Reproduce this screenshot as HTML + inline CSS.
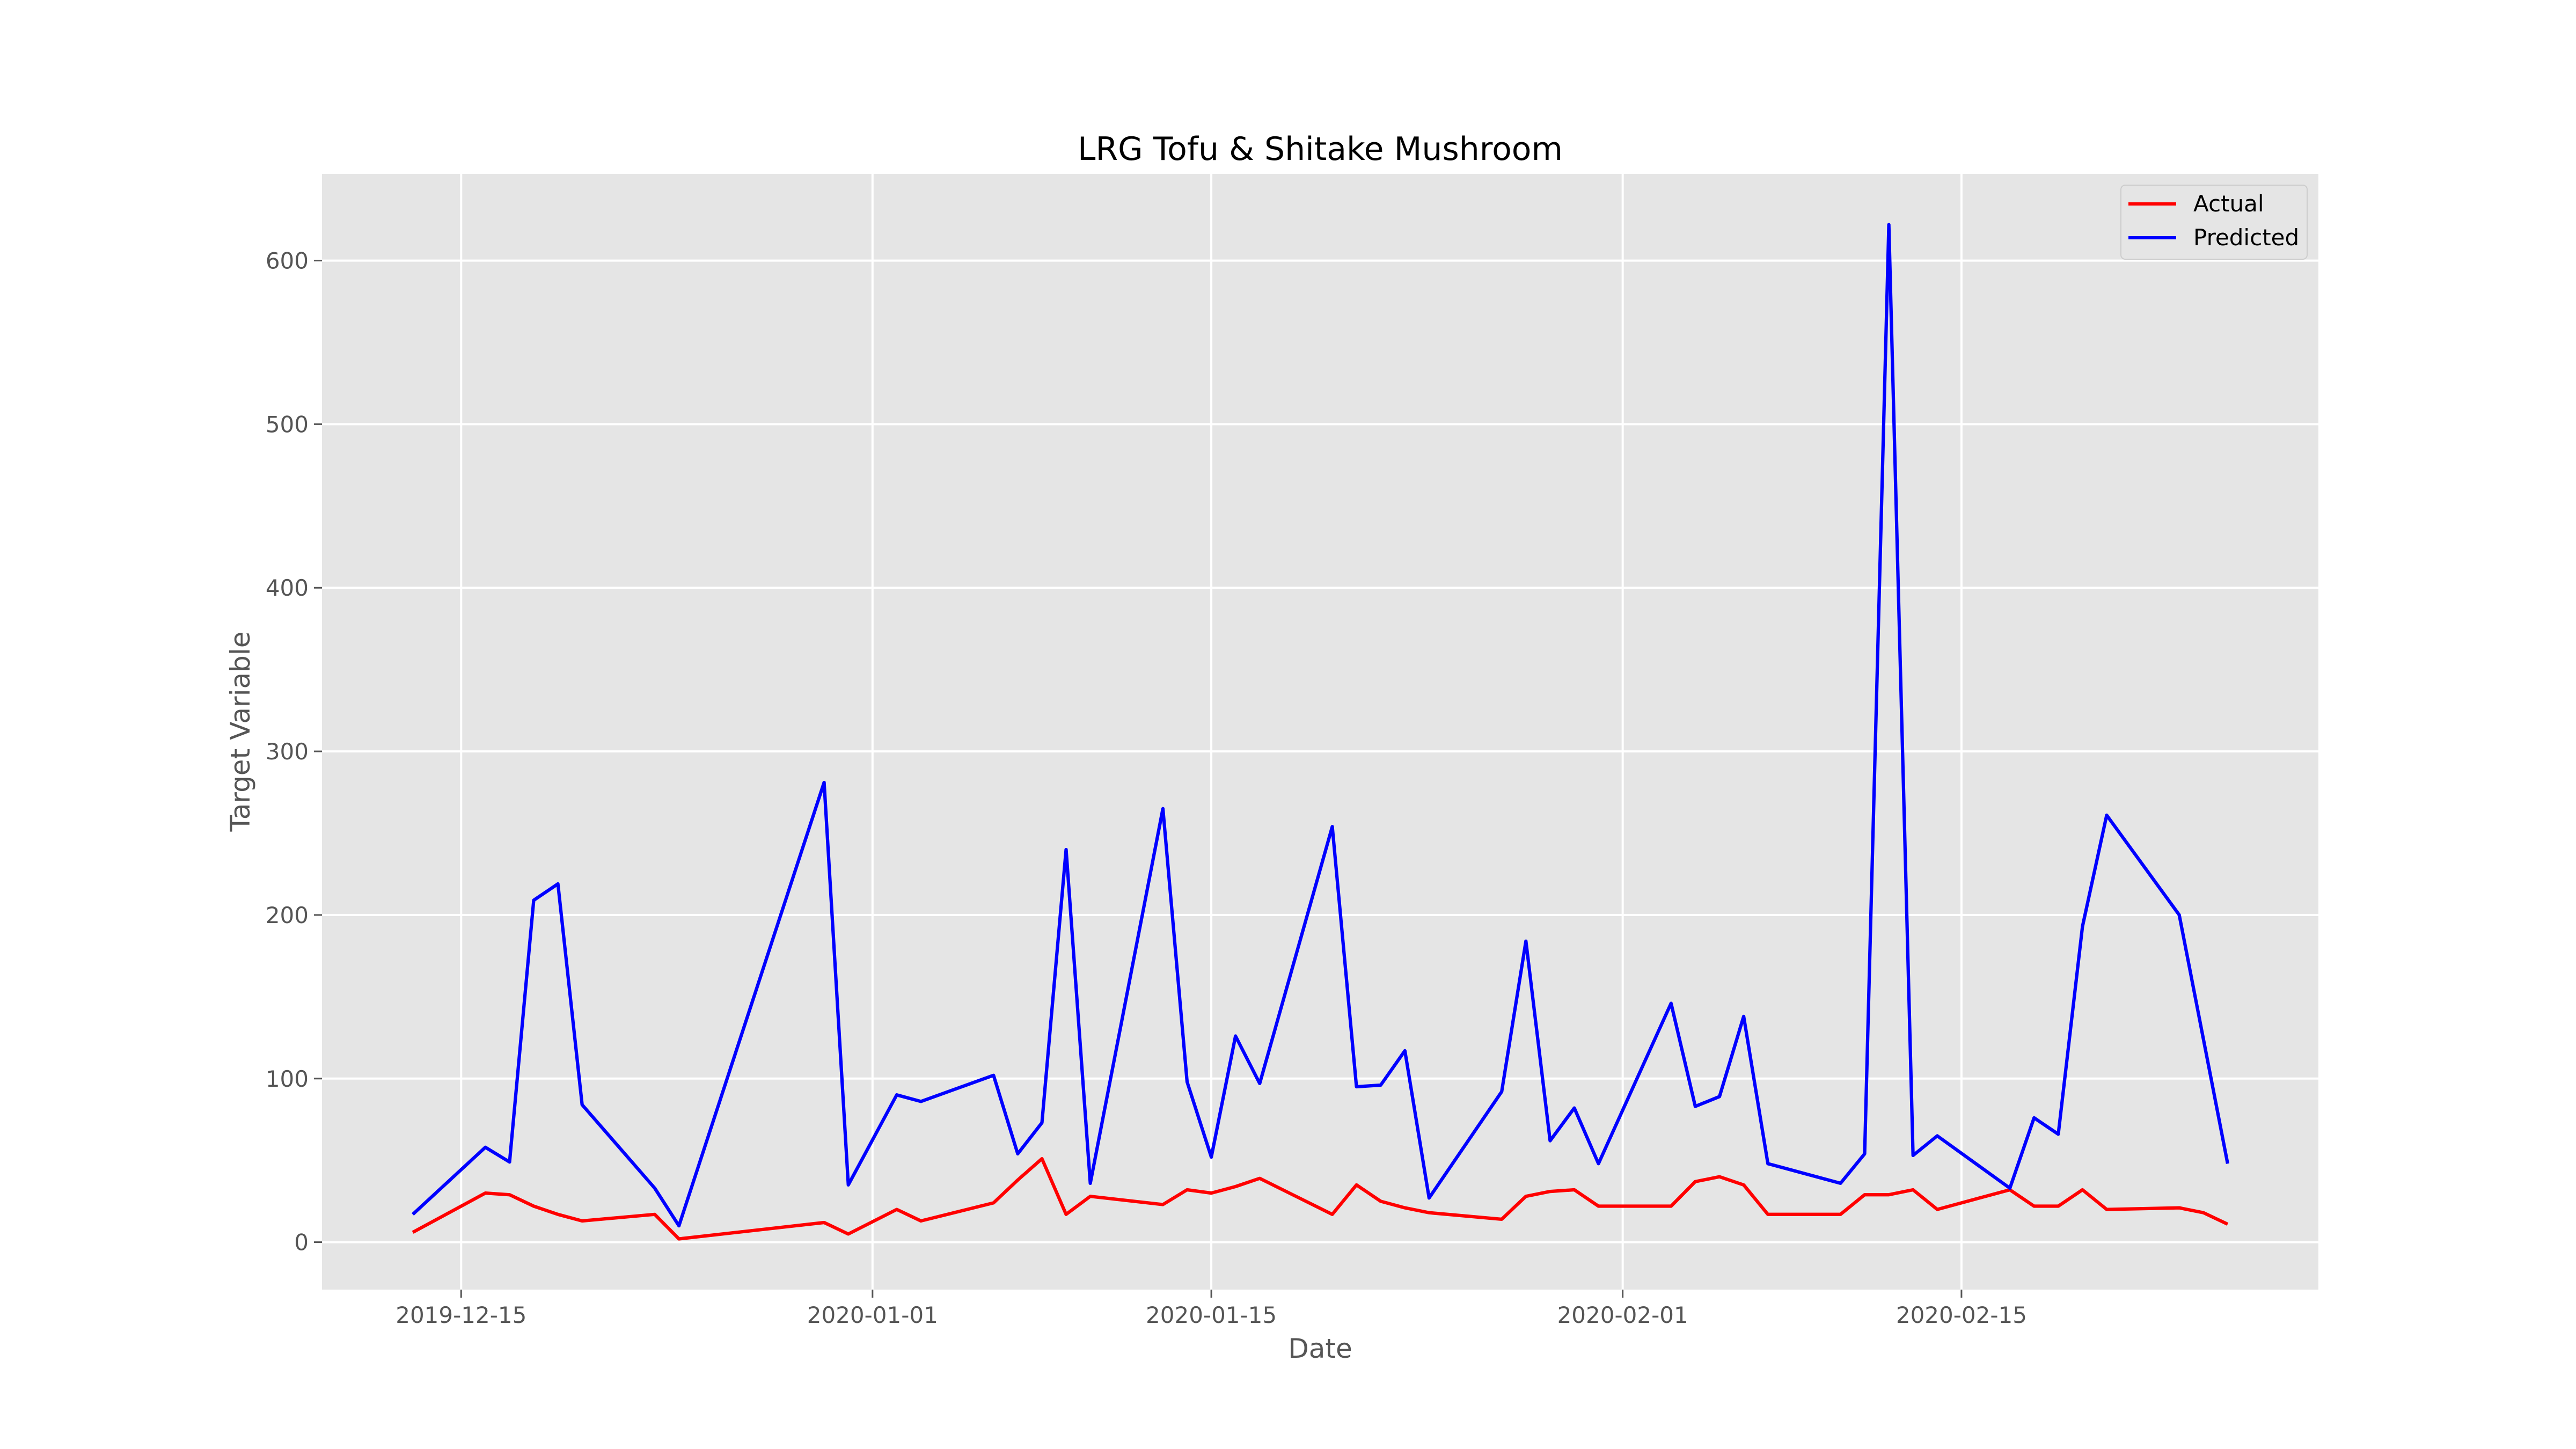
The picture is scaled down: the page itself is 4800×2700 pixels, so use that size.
<!DOCTYPE html>
<html><head><meta charset="utf-8"><style>
html,body{margin:0;padding:0;background:#fff}
svg{display:block;font-family:"DejaVu Sans","Liberation Sans",sans-serif}
</style></head><body>
<svg id="chart" width="4800" height="2700" viewBox="0 0 4800 2700" xmlns="http://www.w3.org/2000/svg">
<rect width="4800" height="2700" fill="#fff"/>
<rect x="600" y="324" width="3720" height="2079" fill="#e5e5e5"/>
<g id="grid"></g>
<g id="series"></g>
<g id="axes"></g>
<text x="2460" y="298" font-size="60" text-anchor="middle" fill="#000">LRG Tofu &amp; Shitake Mushroom</text>
<text x="2460" y="2530" font-size="50" text-anchor="middle" fill="#555">Date</text>
<text transform="translate(465,1363) rotate(-90)" font-size="50" text-anchor="middle" fill="#555">Target Variable</text>
<g>
<rect x="3952" y="345" width="347" height="138" rx="8" fill="#e5e5e5" stroke="#cccccc" stroke-width="2"/>
<line x1="3966" y1="380" x2="4055" y2="380" stroke="#ff0000" stroke-width="6"/>
<text x="4087" y="394" font-size="42" fill="#000">Actual</text>
<line x1="3966" y1="443" x2="4055" y2="443" stroke="#0000ff" stroke-width="6"/>
<text x="4087" y="457" font-size="42" fill="#000">Predicted</text>
</g>
</svg>
<script>
const dates = ["2019-12-13","2019-12-16","2019-12-17","2019-12-18","2019-12-19","2019-12-20","2019-12-23","2019-12-24","2019-12-30","2019-12-31","2020-01-02","2020-01-03","2020-01-06","2020-01-07","2020-01-08","2020-01-09","2020-01-10","2020-01-13","2020-01-14","2020-01-15","2020-01-16","2020-01-17","2020-01-20","2020-01-21","2020-01-22","2020-01-23","2020-01-24","2020-01-27","2020-01-28","2020-01-29","2020-01-30","2020-01-31","2020-02-03","2020-02-04","2020-02-05","2020-02-06","2020-02-07","2020-02-10","2020-02-11","2020-02-12","2020-02-13","2020-02-14","2020-02-17","2020-02-18","2020-02-19","2020-02-20","2020-02-21","2020-02-24","2020-02-25","2020-02-26"];
const actual = [6,30,29,22,17,13,17,2,12,5,20,13,24,38,51,17,28,23,32,30,34,39,17,35,25,21,18,14,28,31,32,22,22,37,40,35,17,17,29,29,32,20,32,22,22,32,20,21,18,11];
const predicted = [17,58,49,209,219,84,33,10,281,35,90,86,102,54,73,240,36,265,98,52,126,97,254,95,96,117,27,92,184,62,82,48,146,83,89,138,48,36,54,622,53,65,33,76,66,193,261,200,124,48];
const yTicks = [0,100,200,300,400,500,600];
const xTicks = ["2019-12-15","2020-01-01","2020-01-15","2020-02-01","2020-02-15"];

const NS="http://www.w3.org/2000/svg";
const L=600,R=4320,T=324,B=2403;
const DAY=86400000;
const t=d=>Date.parse(d+"T00:00:00Z")/DAY;
const t0=t(dates[0]), t1=t(dates[dates.length-1]);
const xm=(t1-t0)*0.05;
const xmin=t0-xm, xmax=t1+xm;
const all=actual.concat(predicted);
const vmin=Math.min(...all), vmax=Math.max(...all), ym=(vmax-vmin)*0.05;
const ymin=vmin-ym, ymax=vmax+ym;
const X=d=>L+(t(d)-xmin)/(xmax-xmin)*(R-L);
const Y=v=>B-(v-ymin)/(ymax-ymin)*(B-T);
function mk(tag,attrs,parent){const e=document.createElementNS(NS,tag);for(const k in attrs)e.setAttribute(k,attrs[k]);parent.appendChild(e);return e;}
const grid=document.getElementById('grid'), axes=document.getElementById('axes'), series=document.getElementById('series');
yTicks.forEach(v=>{
  const y=Y(v);
  const g=mk('line',{x1:L,x2:R,y1:y,y2:y,stroke:'#fff','stroke-width':4},grid);
  
  
  const tk=mk('line',{x1:L-15,x2:L,y1:y,y2:y,stroke:'#555','stroke-width':3},axes);
  
  
  const tx=mk('text',{x:L-25,y:y+15,'font-size':42,'text-anchor':'end',fill:'#555'},axes);
  tx.textContent=v;
  
  
});
xTicks.forEach(d=>{
  const x=X(d);
  const g=mk('line',{x1:x,x2:x,y1:T,y2:B,stroke:'#fff','stroke-width':4},grid);
  
  
  const tk=mk('line',{x1:x,x2:x,y1:B,y2:B+15,stroke:'#555','stroke-width':3},axes);
  
  
  const tx=mk('text',{x:x,y:B+62,'font-size':42,'text-anchor':'middle',fill:'#555'},axes);
  tx.textContent=d;
  
  
});
function line(vals,color,name){
  const pts=vals.map((v,i)=>X(dates[i]).toFixed(1)+','+Y(v).toFixed(1)).join(' ');
  const p=mk('polyline',{points:pts,fill:'none',stroke:color,'stroke-width':6.25,'stroke-linejoin':'round'},series);
  
  
}
line(actual,'#ff0000','actual-line');
line(predicted,'#0000ff','predicted-line');
</script>
</body></html>
